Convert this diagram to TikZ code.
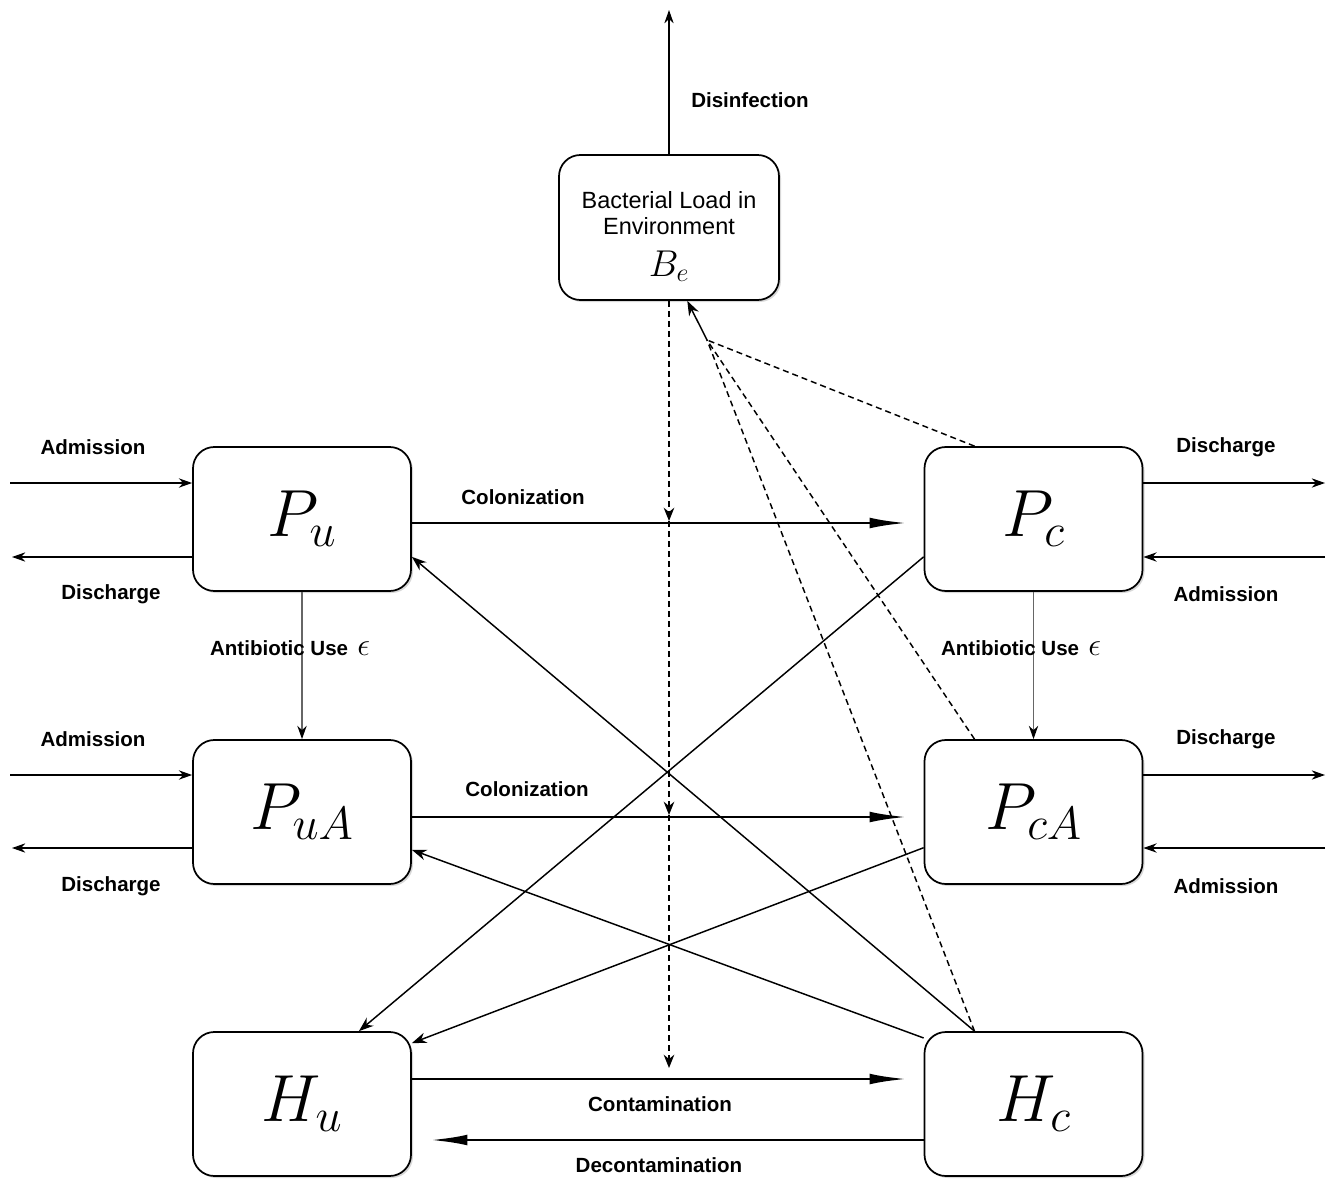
\RequirePackage{fix-cm}
\documentclass[tikz,border=0pt]{standalone}
\usepackage{fontspec}
\setmainfont{Liberation Sans}
\usetikzlibrary{arrows.meta,shadows}
\tikzset{
  box/.style={draw, line width=1.3pt, rounded corners=16pt, fill=white,
    minimum width=163.5pt, minimum height=108pt, inner sep=0pt,
    drop shadow={shadow xshift=1.5pt, shadow yshift=-1.5pt, opacity=0.3}},
  big/.style={font=\fontsize{50}{60}\selectfont},
  lbl/.style={font=\fontsize{15.4}{18}\selectfont\bfseries, inner sep=0pt},
  thinarr/.style={line width=0.9pt, -{Stealth[length=10pt,width=7pt]}},
  flow/.style={line width=2.2pt, -{Latex[length=28pt,width=8pt]}},
  diag/.style={line width=1.1pt, -{Stealth[length=11pt,width=8pt]}},
  dsh/.style={line width=1.1pt, dash pattern=on 4.5pt off 3pt},
  dsharr/.style={dsh, -{Stealth[length=10pt,width=8pt]}},
  abx/.style={line width=1pt, draw=black!60, -{Stealth[length=10pt,width=7pt,black]}},
}
\begin{document}
\begin{tikzpicture}[x=0.75pt,y=-0.75pt]
\useasboundingbox (0,0) rectangle (1328,1181);
\fill[white] (0,0) rectangle (1328,1181);

% boxes
\node[box, minimum width=165pt, minimum height=108.75pt, align=center,
  font=\fontsize{17.6}{19.5}\selectfont] (Be) at (669,227.5)
  {\rule{0pt}{26pt}Bacterial Load in\\Environment\\[12pt]{\fontsize{28}{28}\selectfont$B_e$}};
\node[box, big] (Pu)  at (302,519)    {$P_u$};
\node[box, big] (Pc)  at (1033.5,519) {$P_c$};
\node[box, big] (PuA) at (302,812)    {$P_{uA}$};
\node[box, big] (PcA) at (1033.5,812) {$P_{cA}$};
\node[box, big] (Hu)  at (302,1104)   {$H_u$};
\node[box, big] (Hc)  at (1033.5,1104){$H_c$};

% coordinates for free ends
\coordinate (top)  at (669,10);
\coordinate (colA) at (907,523);
\coordinate (colB) at (907,817);
\coordinate (cont) at (907,1079);
\coordinate (dec)  at (430,1140);
\coordinate (b1) at (669,521);
\coordinate (b2) at (669,815);
\coordinate (b3) at (669,1068);
\coordinate (J) at (707,340);
\coordinate (L1) at (10,483);
\coordinate (L2) at (12,557);
\coordinate (L3) at (10,775);
\coordinate (L4) at (12,848);
\coordinate (R1) at (1325,483);
\coordinate (R2) at (1325,557);
\coordinate (R3) at (1325,775);
\coordinate (R4) at (1325,848);

% disinfection
\draw[thinarr] (Be.north) -- (top);
\node[lbl] (tDis) at (750,100) {Disinfection};

% colonization / contamination
\draw[flow] (Pu.east |- colA) -- (colA);
\draw[flow] (PuA.east |- colB) -- (colB);
\draw[flow] (Hu.east |- cont) -- (cont);
\draw[flow] (Hc.west |- dec) -- (dec);
\node[lbl] (tCol1) at (523,497) {Colonization};
\node[lbl] (tCol2) at (527,789) {Colonization};
\node[lbl] (tCon) at (660,1104) {Contamination};
\node[lbl] (tDec) at (659,1165) {Decontamination};

% environment to transmission
\draw[dsharr] (Be.south) -- (b1);
\draw[dsharr] (b1) -- (b2);
\draw[dsharr] (b2) -- (b3);

% shedding to environment
\draw[dsh] (Pc.129) -- (J);
\draw[dsh] (PcA.129) -- (J);
\draw[dsh] (Hc.129) -- (J);
\draw[diag] (J) -- (Be.-76);

% antibiotic use
\draw[abx] (Pu.south) -- (PuA.north);
\draw[abx] (Pc.south) -- (PcA.north);
\node[lbl] (tAb1) at (290,648) {Antibiotic Use \,{\fontsize{24}{26}\selectfont$\epsilon$}};
\node[lbl] (tAb2) at (1021,648) {Antibiotic Use \,{\fontsize{24}{26}\selectfont$\epsilon$}};

% diagonals
\draw[diag] (Pc.199) -- (Hu.52);
\draw[diag] (PcA.198) -- (Hu.29);
\draw[diag] (Hc.149) -- (PuA.-19);
\draw[diag] (Hc.129) -- (Pu.-19);

% admissions / discharges left
\draw[thinarr] (L1) -- (L1 -| Pu.west);
\draw[thinarr] (Pu.west |- L2) -- (L2);
\draw[thinarr] (L3) -- (L3 -| PuA.west);
\draw[thinarr] (PuA.west |- L4) -- (L4);
\node[lbl] (tA1) at (93,447) {Admission};
\node[lbl] (tD1) at (111,594) {Discharge};
\node[lbl] (tA2) at (93,739) {Admission};
\node[lbl] (tD2) at (111,886) {Discharge};

% right
\draw[thinarr] (Pc.east |- R1) -- (R1);
\draw[thinarr] (R2) -- (R2 -| Pc.east);
\draw[thinarr] (PcA.east |- R3) -- (R3);
\draw[thinarr] (R4) -- (R4 -| PcA.east);
\node[lbl] (tD3) at (1226,447) {Discharge};
\node[lbl] (tA3) at (1226,594) {Admission};
\node[lbl] (tD4) at (1226,739) {Discharge};
\node[lbl] (tA4) at (1226,886) {Admission};
\end{tikzpicture}
\end{document}
